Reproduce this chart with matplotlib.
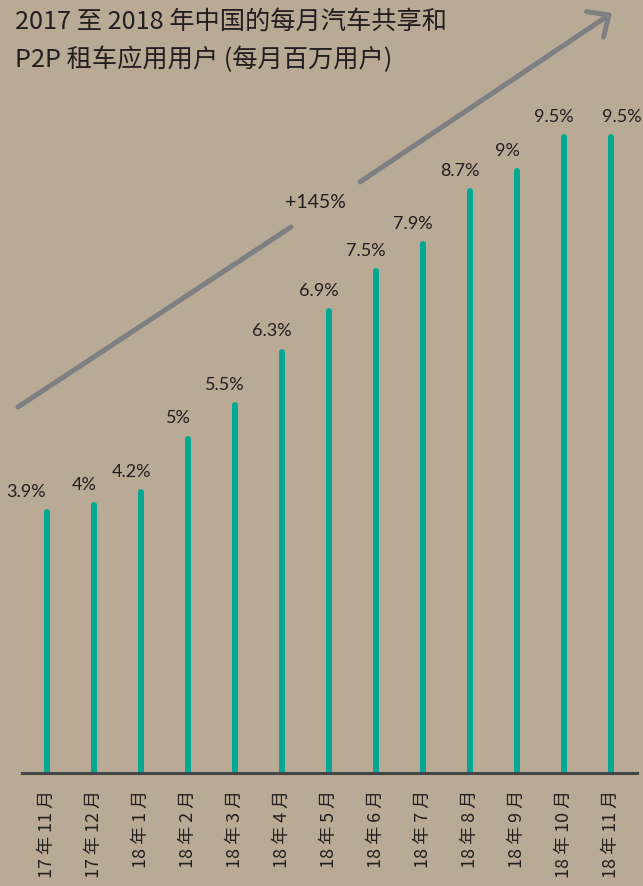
import matplotlib
matplotlib.use("Agg")
import matplotlib.pyplot as plt

# ---- data ----
categories = ["17 年 11 月", "17 年 12 月", "18 年 1 月", "18 年 2 月", "18 年 3 月",
              "18 年 4 月", "18 年 5 月", "18 年 6 月", "18 年 7 月", "18 年 8 月",
              "18 年 9 月", "18 年 10 月", "18 年 11 月"]
values = [3.9, 4.0, 4.2, 5.0, 5.5, 6.3, 6.9, 7.5, 7.9, 8.7, 9.0, 9.5, 9.5]
value_labels = ["3.9%", "4%", "4.2%", "5%", "5.5%", "6.3%", "6.9%", "7.5%",
                "7.9%", "8.7%", "9%", "9.5%", "9.5%"]
title_lines = ["2017 至 2018 年中国的每月汽车共享和", "P2P 租车应用用户 (每月百万用户)"]
growth_label = "+145%"

# ---- style ----
BG = "#b8aa94"
TEAL = "#00a894"
GREY = "#7e7f82"
TXT = "#231f20"
CJK = ["Noto Sans CJK SC", "DejaVu Sans"]
NUM = ["Lato", "DejaVu Sans"]

W, H = 643, 886
fig = plt.figure(figsize=(W / 100, H / 100), dpi=100, facecolor=BG)

base_px = 773
ax = fig.add_axes([22 / W, (H - base_px) / H, (637 - 22) / W, base_px / H])
ax.set_facecolor(BG)

x = list(range(len(values)))
for xi, v in zip(x, values):
    ax.plot([xi, xi], [0, v], color=TEAL, lw=4.3, solid_capstyle="round", zorder=2)

# value labels (slightly left of the bar, clamped at edges)
offsets = [-15] + [-7] * (len(values) - 2) + [8]
for xi, v, lab, dx in zip(x, values, value_labels, offsets):
    ax.annotate(lab, (xi, v), xytext=(dx, 11), textcoords="offset points",
                ha="center", va="baseline", fontsize=13, color=TXT, family=NUM)

ax.set_xlim((22 - 47) / 47, (637 - 47) / 47)
ax.set_ylim(0, base_px / 66.9)
ax.set_xticks(x)
ax.set_xticklabels(categories, rotation=90, va="top", ha="center",
                   fontsize=13, color=TXT, family=CJK)
ax.tick_params(axis="x", length=0, pad=12)
ax.set_yticks([])
for s in ["top", "left", "right"]:
    ax.spines[s].set_visible(False)
ax.spines["bottom"].set_color("#454545")
ax.spines["bottom"].set_linewidth(2.2)
ax.spines["bottom"].set_zorder(3)

# growth arrow (annotation)
def fp(px, py):
    return (px / W, 1 - py / H)

ax.annotate("", xy=fp(291, 227), xytext=fp(18, 407), xycoords="figure fraction",
            textcoords="figure fraction",
            arrowprops=dict(arrowstyle="-", color=GREY, lw=3.6, capstyle="round",
                            shrinkA=0, shrinkB=0))
ax.annotate("", xy=fp(612, 13), xytext=fp(360, 182), xycoords="figure fraction",
            textcoords="figure fraction",
            arrowprops=dict(arrowstyle="->,head_length=0.6,head_width=0.55",
                            color=GREY, lw=3.6, capstyle="round", joinstyle="round",
                            mutation_scale=20, shrinkA=0, shrinkB=0))
fig.text(*fp(315, 203), growth_label, ha="center", va="center", fontsize=14,
         color=TXT, family=NUM)

# title
fig.text(15 / W, 1 - 22 / H, title_lines[0], ha="left", va="center",
         fontsize=18.2, color=TXT, family=CJK)
fig.text(15 / W, 1 - 60 / H, title_lines[1], ha="left", va="center",
         fontsize=18.2, color=TXT, family=CJK)

fig.savefig("out.png", dpi=100, facecolor=BG)
